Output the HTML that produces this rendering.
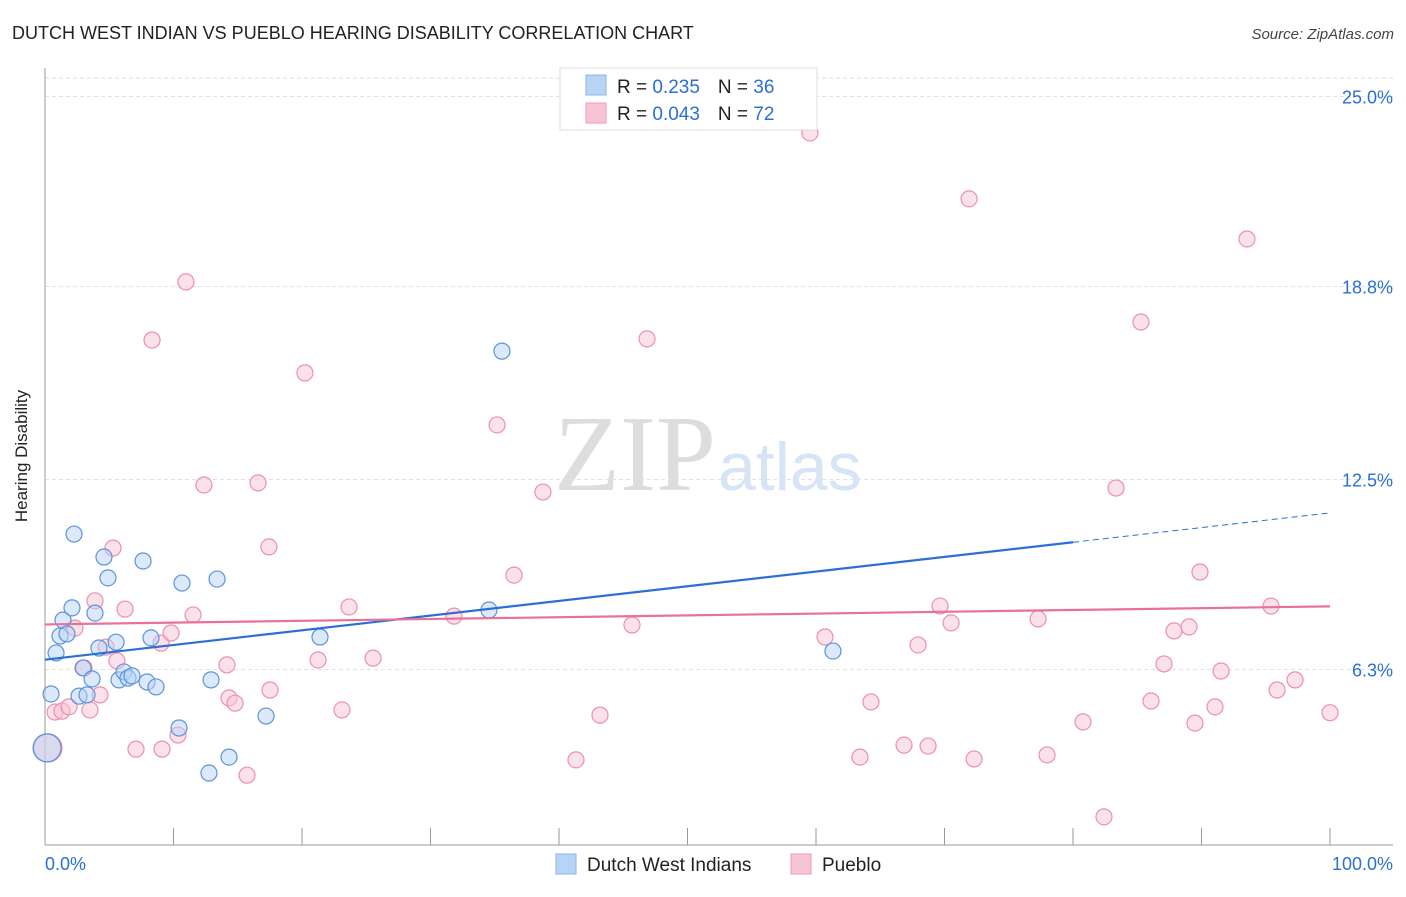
<!DOCTYPE html>
<html><head><meta charset="utf-8"><style>
body{margin:0;background:#fff;font-family:"Liberation Sans",sans-serif;}
svg text{font-family:"Liberation Sans",sans-serif;}
</style></head><body>
<svg id="chart" width="1406" height="892">
<text x="12" y="39" font-size="18" fill="#222">DUTCH WEST INDIAN VS PUEBLO HEARING DISABILITY CORRELATION CHART</text>
<text x="1394" y="39" font-size="15" fill="#444" text-anchor="end" font-style="italic">Source: ZipAtlas.com</text>
<text x="27" y="456" font-size="17" fill="#222" text-anchor="middle" transform="rotate(-90 27 456)">Hearing Disability</text>
<text x="716" y="490" font-size="108" fill="#ddd" text-anchor="end" style="font-family:'Liberation Serif',serif">ZIP</text>
<text x="718" y="490" font-size="68" fill="#d6e4f5">atlas</text>
<g id="grid"></g>
<g id="marks"></g>
<g>
<rect x="560" y="68" width="257" height="62" fill="#fff" stroke="#ddd"/>
<rect x="586" y="75" width="20" height="20" fill="#b8d4f5" stroke="#8ab4ea"/>
<rect x="586" y="103" width="20" height="20" fill="#f8c4d4" stroke="#ee9ab4"/>
<text x="617" y="93" font-size="19" fill="#222">R = <tspan fill="#2b6fd6"> 0.235</tspan><tspan dx="18">N = </tspan><tspan fill="#2b6fd6">36</tspan></text>
<text x="617" y="120" font-size="19" fill="#222">R = <tspan fill="#2b6fd6">0.043</tspan><tspan dx="18">N = </tspan><tspan fill="#2b6fd6">72</tspan></text>
</g>
<g>
<rect x="556" y="854" width="20" height="20" fill="#b8d4f5" stroke="#8ab4ea"/>
<text x="587" y="871" font-size="19" fill="#222">Dutch West Indians</text>
<rect x="791" y="854" width="20" height="20" fill="#f8c4d4" stroke="#ee9ab4"/>
<text x="822" y="871" font-size="19" fill="#222">Pueblo</text>
</g>
</svg>
<script>
const yTicks=[25.0,18.8,12.5,6.3];
const yTickLabels=["25.0%","18.8%","12.5%","6.3%"];
const xTickCount=10;
const blueX=[0.47,0.86,1.17,1.40,1.71,2.10,2.26,2.65,2.96,3.27,3.66,3.89,4.20,4.59,4.90,5.53,5.76,6.15,6.46,6.77,7.63,7.94,8.25,8.64,10.43,10.66,12.76,12.92,13.39,14.32,17.2,21.4,34.55,35.56,61.32,0.16];
const blueY=[5.50,6.84,7.39,7.91,7.46,8.31,10.72,5.43,6.35,5.47,5.99,8.14,7.00,9.97,9.29,7.19,5.96,6.22,6.02,6.09,9.84,5.89,7.33,5.73,4.39,9.12,2.92,5.96,9.25,3.44,4.78,7.36,8.24,16.69,6.90,3.74];
const pinkX=[0.23,0.78,1.32,1.87,2.33,3.04,3.50,3.89,4.28,4.75,5.29,5.60,6.23,7.08,8.33,9.03,9.11,9.81,10.35,10.97,11.52,12.37,14.16,14.32,14.79,15.72,16.58,17.43,17.51,20.23,21.25,23.11,23.66,25.53,31.83,35.18,36.50,38.75,41.32,43.19,45.68,46.85,59.53,60.70,63.42,64.28,66.85,67.94,68.72,69.65,70.51,71.91,72.30,77.28,77.98,80.78,82.41,83.35,85.29,86.07,87.08,87.86,89.03,89.49,89.88,91.05,91.52,93.54,95.41,95.88,97.28,100];
const pinkY=[3.74,4.91,4.94,5.08,7.65,6.35,4.98,8.54,5.47,7.03,10.26,6.58,8.27,3.70,17.05,7.16,3.70,7.49,4.16,18.95,8.08,12.32,6.45,5.37,5.20,2.85,12.39,10.30,5.63,15.98,6.61,4.98,8.34,6.67,8.04,14.28,9.38,12.09,3.35,4.81,7.75,17.09,23.81,7.36,3.44,5.24,3.83,7.10,3.80,8.37,7.82,21.66,3.38,7.95,3.51,4.59,1.49,12.22,17.64,5.27,6.48,7.56,7.69,4.55,9.48,5.08,6.25,20.35,8.37,5.63,5.96,4.89];
const blueTrend=[6.62,11.41];
const pinkTrend=[7.77,8.36];
const NS="http://www.w3.org/2000/svg";
const X=v=>45+v*12.85, Y=v=>862.5-v*30.64;
function mk(t,a,p){const e=document.createElementNS(NS,t);for(const k in a)e.setAttribute(k,a[k]);p.appendChild(e);return e;}
const grid=document.getElementById('grid'), marks=document.getElementById('marks');
mk('line',{x1:45,y1:78,x2:1393,y2:78,stroke:'#ddd','stroke-dasharray':'4 3'},grid);
yTicks.forEach((t,i)=>{
 const l=mk('line',{x1:45,y1:Y(t),x2:1393,y2:Y(t),stroke:'#e2e2e2','stroke-dasharray':'4 3'},grid);
 
 
 const tx=mk('text',{x:1393,y:Y(t)+7,'font-size':18,fill:'#2b6fd6','text-anchor':'end'},grid);
 tx.textContent=yTickLabels[i];
 
 
});
mk('line',{x1:45,y1:68,x2:45,y2:845,stroke:'#999'},grid);
mk('line',{x1:45,y1:845,x2:1393,y2:845,stroke:'#999'},grid);
for(let i=0;i<=xTickCount;i++){const t=mk('line',{x1:X(i*10),y1:828,x2:X(i*10),y2:845,stroke:'#999'},grid);
 
 }
const xl=mk('text',{x:45,y:870,'font-size':18,fill:'#2b6fd6'},grid);xl.textContent='0.0%';


const xr=mk('text',{x:1393,y:870,'font-size':18,fill:'#2b6fd6','text-anchor':'end'},grid);xr.textContent='100.0%';


function pts(xs,ys,fill,stroke,name){xs.forEach((x,i)=>{const big=(i===xs.length-1&&name==='blue-point')||(i===0&&name==='pink-point');
 const c=mk('circle',{cx:X(x),cy:Y(ys[i]),r:big?14:8,fill:fill,'fill-opacity':0.5,stroke:stroke,'stroke-width':1.2},marks);
 
 });}
pts(pinkX,pinkY,'#f8c4d4','#ee8fad','pink-point');
pts(blueX,blueY,'#b8d4f5','#5b93dd','blue-point');
const bAt=v=>blueTrend[0]+(blueTrend[1]-blueTrend[0])*v/100;
const bl=mk('line',{x1:X(0),y1:Y(bAt(0)),x2:X(80),y2:Y(bAt(80)),stroke:'#2b6fd6','stroke-width':2.2},marks);


const bd=mk('line',{x1:X(80),y1:Y(bAt(80)),x2:X(100),y2:Y(bAt(100)),stroke:'#2b6fd6','stroke-width':1,'stroke-dasharray':'6 4'},marks);


const pl=mk('line',{x1:X(0),y1:Y(pinkTrend[0]),x2:X(100),y2:Y(pinkTrend[1]),stroke:'#e8719a','stroke-width':2.2},marks);


</script>
</body></html>
